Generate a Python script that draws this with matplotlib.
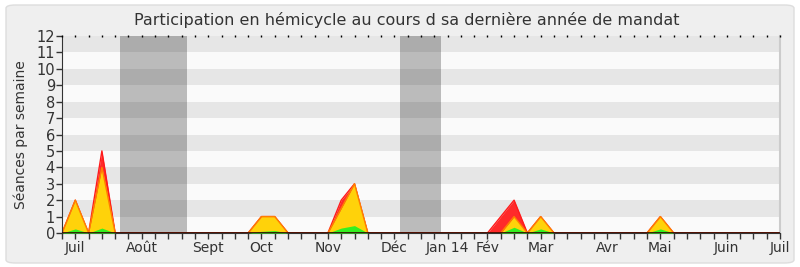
import matplotlib
matplotlib.use("Agg")
import matplotlib.pyplot as plt
from matplotlib.patches import FancyBboxPatch
import numpy as np

# ---- data ----
n_weeks = 54
weeks = list(range(n_weeks + 1))
green_pts = {1: 0.25, 3: 0.3, 15: 0.1, 16: 0.15, 21: 0.3, 22: 0.45, 34: 0.35, 36: 0.25, 45: 0.25}
yellow_pts = {1: 1.75, 3: 3.7, 15: 0.9, 16: 0.85, 21: 1.2, 22: 2.55, 34: 0.65, 36: 0.75, 45: 0.75}
red_pts = {3: 1.0, 21: 0.5, 33: 1.0, 34: 1.0}
green = [green_pts.get(w, 0) for w in weeks]
yellow = [yellow_pts.get(w, 0) for w in weeks]
red = [red_pts.get(w, 0) for w in weeks]

month_labels = ["Juil", "Août", "Sept", "Oct", "Nov", "Déc", "Jan 14", "Fév", "Mar", "Avr", "Mai", "Juin", "Juil"]
month_weeks = [1, 6, 11, 15, 20, 25, 29, 32, 36, 41, 45, 50, 54]
vacations = [(4.35, 9.43), (25.4, 28.5)]

title = "Participation en hémicycle au cours d sa dernière année de mandat"
ylabel = "Séances par semaine"

# ---- figure ----
fig = plt.figure(figsize=(8, 2.67), dpi=100)
fig.patch.set_facecolor("white")
bg = FancyBboxPatch((6 / 800, 4 / 267), 788 / 800, 258 / 267,
                    boxstyle="round,pad=0,rounding_size=0.012",
                    transform=fig.transFigure, facecolor="#efefef",
                    edgecolor="#dddddd", linewidth=1, zorder=-10)
fig.patches.append(bg)

ax = fig.add_axes([62 / 800, 1 - 233 / 267, (780 - 62) / 800, (233 - 36) / 267])
ax.set_zorder(1)
ax.set_facecolor("#fafafa")
ax.set_xlim(0, n_weeks)
ax.set_ylim(0, 12)

for k in range(12):
    ax.axhspan(k, k + 1, color="#e6e6e6" if k % 2 == 1 else "#fafafa", lw=0, zorder=0)
for a, b in vacations:
    ax.axvspan(a, b, color="black", alpha=0.25, lw=0, zorder=0.5)

g = np.array(green)
y = np.array(yellow)
r = np.array(red)
x = np.array(weeks)
ax.fill_between(x, 0, g + y + r, color="#ff2a2a", lw=0, zorder=1)
ax.plot(x, g + y + r, color="#ff1a1a", lw=1, zorder=1.2)
ax.fill_between(x, 0, g + y, color="#ffd20a", lw=0, zorder=2)
ax.plot(x, g + y, color="#ff7f00", lw=1, zorder=2.2)
ax.fill_between(x, 0, g, color="#33f020", lw=0, zorder=3)
ax.axhline(0, color="#330000", lw=1.2, zorder=4)

ax.spines["top"].set_visible(False)
ax.spines["right"].set_color("#cccccc")
ax.spines["right"].set_linewidth(1.5)
ax.spines["left"].set_color("#333333")
ax.spines["bottom"].set_color("#333333")

ax.set_yticks(range(13))
ax.set_yticklabels([str(i) for i in range(13)], fontsize=10.5, color="#333333")
ax.tick_params(axis="y", length=4, width=1, pad=1, color="#333333")

ax.set_xticks(weeks, minor=True)
ax.set_xticks(month_weeks)
ax.set_xticklabels(month_labels, fontsize=10, color="#333333")
ax.tick_params(axis="x", which="both", length=4, width=1, color="#333333", pad=2)
ax.xaxis.set_ticks_position("bottom")
# top ticks as small dots
ax.plot(weeks, [12] * len(weeks), linestyle="none", marker="|", markersize=2,
        color="black", clip_on=False, zorder=5)

ax.set_ylabel(ylabel, fontsize=10, color="#333333", labelpad=6)
fig.text(407 / 800, 1 - 20 / 267, title, ha="center", va="center", fontsize=11.5, color="#333333")

fig.savefig("out.png", dpi=100, facecolor=fig.get_facecolor())
